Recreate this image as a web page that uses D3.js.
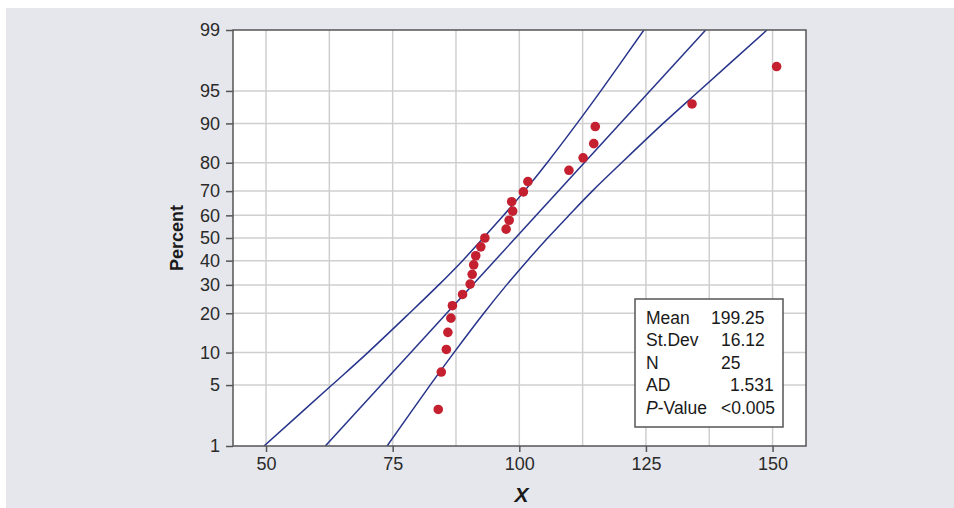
<!DOCTYPE html>
<html>
<head>
<meta charset="utf-8">
<script src="https://cdn.jsdelivr.net/npm/d3@7"></script>
<style>
  html, body { margin: 0; padding: 0; background: #fff; }
  text { font-family: "Liberation Sans", Arial, sans-serif; }
</style>
</head>
<body>
<div id="chart"></div>
<script>
// normal probability plot with 95% CI bands

// data
var xValues = [84.0, 84.6, 85.6, 85.9, 86.5, 86.8, 88.8, 90.3, 90.7, 91.0, 91.4, 92.4, 93.2,
               97.4, 98.0, 98.7, 98.5, 100.8, 101.7, 109.8, 112.6, 114.7, 115.0, 134.1, 150.8];
var pctValues = [2.76, 6.69, 10.63, 14.57, 18.50, 22.44, 26.38, 30.31, 34.25, 38.19, 42.13, 46.06, 50.00,
                 53.94, 57.87, 61.81, 65.75, 69.69, 73.62, 77.56, 81.50, 85.43, 89.37, 93.31, 97.24];

var bandPct = [1, 5, 10, 20, 30, 40, 50, 60, 70, 80, 90, 95, 99];
var lowerBand = [49.6, 63.0, 70.1, 78.3, 84.1, 88.8, 92.9, 96.9, 101.0, 105.5, 111.4, 116.1, 124.6];
var upperBand = [73.9, 82.4, 87.1, 93.0, 97.5, 101.6, 105.6, 109.8, 114.4, 120.2, 128.4, 135.5, 148.9];
var fitPct = [1, 99];
var fitX = [61.7, 136.8];

var yTicks = [1, 5, 10, 20, 30, 40, 50, 60, 70, 80, 90, 95, 99];
var xTicks = [50, 75, 100, 125, 150];
var xGrid = [50, 62.5, 75, 87.5, 100, 112.5, 125, 137.5, 150];

var statLabels = ["Mean", "St.Dev", "N", "AD", "P-Value"];
var statValues = ["199.25", "16.12", "25", "1.531", "<0.005"];
var statValueX = [76, 86, 86, 95, 86];

var width = 954,
    height = 508;
var margin = {left: 233, right: 148, top: 30, bottom: 62};

// inverse normal cdf (Acklam)
function probit(p) {
  var a = [-39.69683028665376, 220.9460984245205, -275.9285104469687, 138.3577518672690, -30.66479806614716, 2.506628277459239];
  var b = [-54.47609879822406, 161.5858368580409, -155.6989798598866, 66.80131188771972, -13.28068155288572];
  var c = [-0.007784894002430293, -0.3223964580411365, -2.400758277161838, -2.549732539343734, 4.374664141464968, 2.938163982698783];
  var d = [0.007784695709041462, 0.3224671290700398, 2.445134137142996, 3.754408661907416];
  var pl = 0.02425, q, r;
  if (p < pl) {
    q = Math.sqrt(-2 * Math.log(p));
    return (((((c[0]*q+c[1])*q+c[2])*q+c[3])*q+c[4])*q+c[5]) / ((((d[0]*q+d[1])*q+d[2])*q+d[3])*q+1);
  }
  if (p > 1 - pl) {
    q = Math.sqrt(-2 * Math.log(1 - p));
    return -(((((c[0]*q+c[1])*q+c[2])*q+c[3])*q+c[4])*q+c[5]) / ((((d[0]*q+d[1])*q+d[2])*q+d[3])*q+1);
  }
  q = p - 0.5; r = q * q;
  return (((((a[0]*r+a[1])*r+a[2])*r+a[3])*r+a[4])*r+a[5])*q / (((((b[0]*r+b[1])*r+b[2])*r+b[3])*r+b[4])*r+1);
}

var x = d3.scaleLinear()
  .domain([43.48, 156.6])
  .range([margin.left, width - margin.right]);

var zScale = d3.scaleLinear()
  .domain([probit(0.01), probit(0.99)])
  .range([height - margin.bottom, margin.top]);
function y(pct) { return zScale(probit(pct / 100)); }

var svg = d3.select("#chart")
  .append("svg")
  .attr("width", width)
  .attr("height", height);

// background panel
svg.append("rect")
  .attr("x", 6).attr("y", 8)
  .attr("width", width - 6).attr("height", height - 8)
  .attr("fill", "#e6e7ec");

var x0 = x.range()[0], x1 = x.range()[1];
var y0 = zScale.range()[0], y1 = zScale.range()[1];

svg.append("rect")
  .attr("x", x0).attr("y", y1)
  .attr("width", x1 - x0).attr("height", y0 - y1)
  .attr("fill", "#fff");

svg.append("clipPath").attr("id", "clip")
  .append("rect")
  .attr("x", x0).attr("y", y1)
  .attr("width", x1 - x0).attr("height", y0 - y1);

// grid
svg.append("g").selectAll("line")
  .data(xGrid)
  .enter()
  .append("line")
  .attr("x1", function(d) { return x(d); })
  .attr("x2", function(d) { return x(d); })
  .attr("y1", y1).attr("y2", y0)
  .attr("stroke", "#cfcfcf")
  .attr("stroke-width", 1.5);

svg.append("g").selectAll("line")
  .data(yTicks.slice(1, -1))
  .enter()
  .append("line")
  .attr("x1", x0).attr("x2", x1)
  .attr("y1", function(d) { return y(d); })
  .attr("y2", function(d) { return y(d); })
  .attr("stroke", "#cfcfcf")
  .attr("stroke-width", 1.5);

// fit line + bands
var plot = svg.append("g").attr("clip-path", "url(#clip)");

var band = d3.line()
  .x(function(d) { return x(d[0]); })
  .y(function(d) { return y(d[1]); })
  .curve(d3.curveCatmullRom);

[lowerBand, upperBand].forEach(function(b) {
  plot.append("path")
    .datum(b.map(function(v, i) { return [v, bandPct[i]]; }))
    .attr("d", band)
    .attr("fill", "none")
    .attr("stroke", "#27348b")
    .attr("stroke-width", 1.5);
});

plot.append("path")
  .datum(fitX.map(function(v, i) { return [v, fitPct[i]]; }))
  .attr("d", d3.line().x(function(d) { return x(d[0]); }).y(function(d) { return y(d[1]); }))
  .attr("fill", "none")
  .attr("stroke", "#27348b")
  .attr("stroke-width", 1.5);

// points
svg.append("g").selectAll("circle")
  .data(xValues)
  .enter()
  .append("circle")
  .attr("cx", function(d) { return x(d); })
  .attr("cy", function(d, i) { return y(pctValues[i]); })
  .attr("r", 4.8)
  .attr("fill", "#c4202f");

// frame
svg.append("rect")
  .attr("x", x0).attr("y", y1)
  .attr("width", x1 - x0).attr("height", y0 - y1)
  .attr("fill", "none")
  .attr("stroke", "#555")
  .attr("stroke-width", 1.5);

// axes
var xAxis = svg.append("g")
  .attr("transform", "translate(0," + y0 + ")")
  .call(d3.axisBottom(x).tickValues(xTicks).tickSize(6).tickPadding(5));

var yAxis = svg.append("g")
  .attr("transform", "translate(" + x0 + ",0)")
  .call(d3.axisLeft(zScale)
    .tickValues(yTicks.map(function(p) { return probit(p / 100); }))
    .tickFormat(function(d, i) { return yTicks[i]; })
    .tickSize(7).tickPadding(6));

[xAxis, yAxis].forEach(function(g) {
  g.attr("font-size", null).attr("font-family", null);
  g.select(".domain").remove();
  g.selectAll(".tick line").attr("stroke", "#555").attr("stroke-width", 1.5);
  g.selectAll(".tick text")
    .attr("fill", "#2a2a2a")
    .attr("font-size", 18)
    .attr("font-family", "'Liberation Sans', Arial, sans-serif");
});

// axis titles
svg.append("text")
  .attr("transform", "translate(183," + ((y0 + y1) / 2) + ") rotate(-90)")
  .attr("text-anchor", "middle")
  .attr("font-size", 18)
  .attr("font-weight", "bold")
  .attr("fill", "#1a1a1a")
  .text("Percent");

svg.append("text")
  .attr("x", (x0 + x1) / 2 + 2)
  .attr("y", 502)
  .attr("text-anchor", "middle")
  .attr("font-size", 21)
  .attr("font-weight", "bold")
  .attr("font-style", "italic")
  .attr("fill", "#1a1a1a")
  .text("X");

// stats box
var box = svg.append("g").attr("transform", "translate(635,299)");
box.append("rect")
  .attr("width", 148).attr("height", 128)
  .attr("fill", "#fff")
  .attr("stroke", "#555")
  .attr("stroke-width", 1.5);

var rows = box.selectAll("g.row")
  .data(statLabels)
  .enter()
  .append("g")
  .attr("class", "row")
  .attr("transform", function(d, i) { return "translate(0," + (24.5 + i * 22.5) + ")"; });

rows.append("text")
  .attr("x", 11)
  .attr("font-size", 17.5)
  .attr("fill", "#1a1a1a")
  .each(function(d) {
    var t = d3.select(this);
    if (d === "P-Value") {
      t.append("tspan").attr("font-style", "italic").text("P");
      t.append("tspan").text("-Value");
    } else {
      t.text(d);
    }
  });

rows.append("text")
  .attr("x", function(d, i) { return statValueX[i]; })
  .attr("font-size", 17.5)
  .attr("fill", "#1a1a1a")
  .text(function(d, i) { return statValues[i]; });
</script>
</body>
</html>
